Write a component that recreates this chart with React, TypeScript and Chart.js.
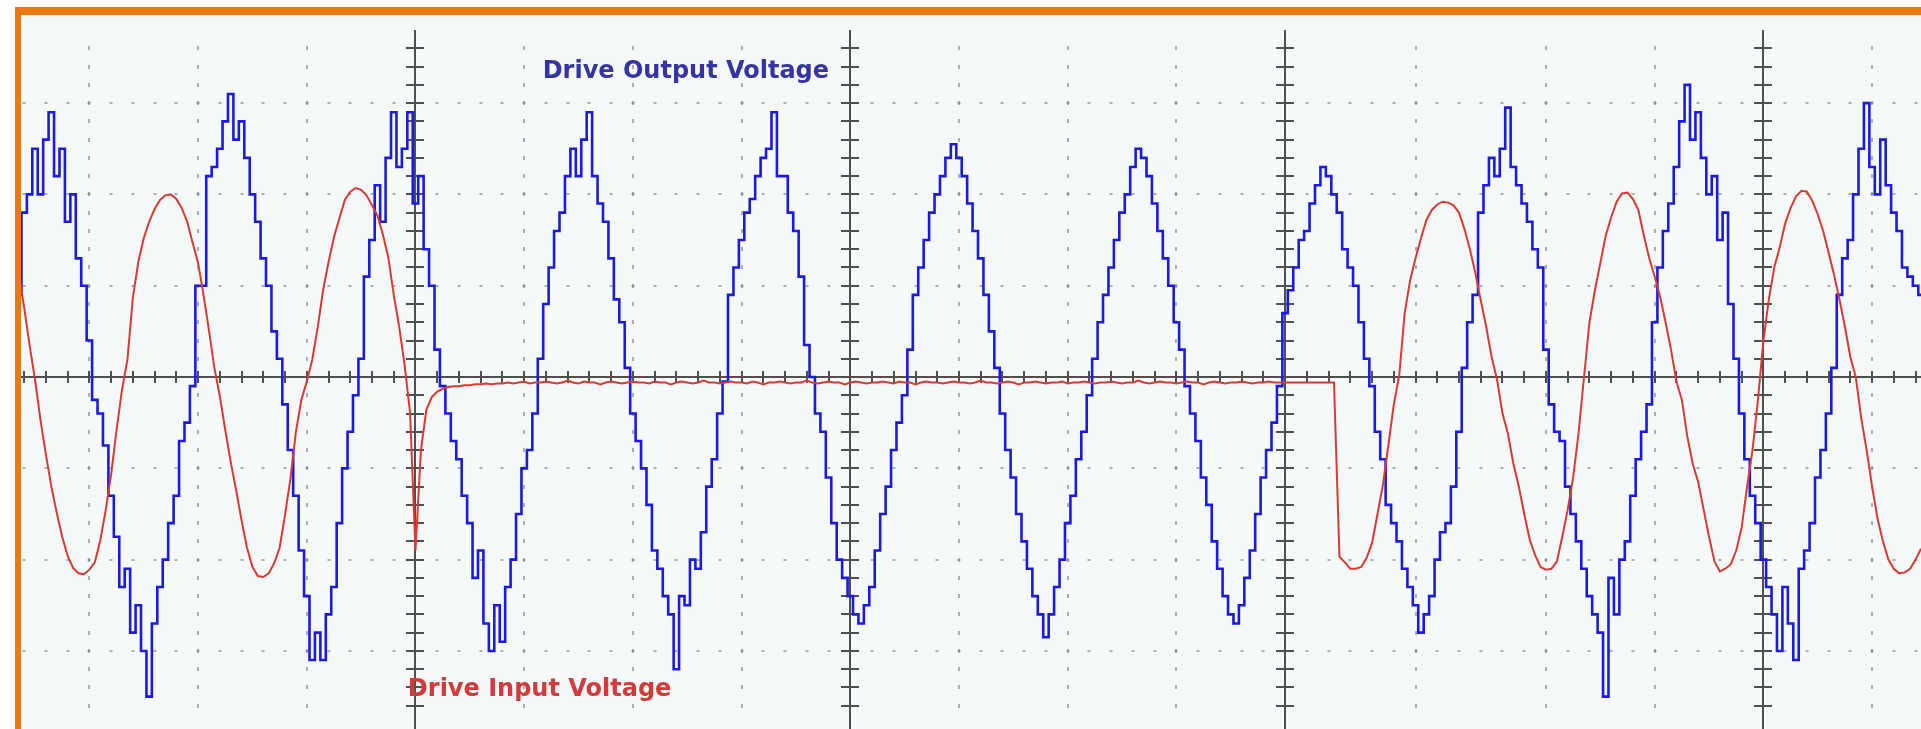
import { useEffect, useRef } from "react";
import { Chart, registerables } from "chart.js";

Chart.register(...registerables);

// Scope capture: both channels sampled every 0.5 ms, starting at -36.5 ms.
// Vertical values are in screen divisions (8 divisions full scale).
const sampleStartMs = -36.5;
const sampleStepMs = 0.5;

// Drive output voltage (blue channel), divisions
const driveOutput = [
  0.9, 1.8, 2.0, 2.5, 2.0, 2.6, 2.9, 2.2, 2.5, 1.7,
  2.0, 1.3, 1.0, 0.4, -0.25, -0.4, -0.75, -1.3, -1.75, -2.3,
  -2.1, -2.8, -2.5, -3.0, -3.5, -2.7, -2.3, -2.0, -1.6, -1.3,
  -0.7, -0.5, -0.1, 1.0, 1.0, 2.2, 2.3, 2.5, 2.8, 3.1,
  2.6, 2.8, 2.4, 2.0, 1.7, 1.3, 1.0, 0.5, 0.2, -0.3,
  -0.8, -1.3, -1.9, -2.4, -3.1, -2.8, -3.1, -2.6, -2.3, -1.6,
  -1.0, -0.6, -0.2, 0.2, 1.1, 1.5, 2.1, 1.7, 2.4, 2.9,
  2.3, 2.5, 2.9, 1.9, 2.2, 1.4, 1.0, 0.3, -0.1, -0.4,
  -0.7, -0.9, -1.3, -1.6, -2.2, -1.9, -2.7, -3.0, -2.5, -2.9,
  -2.3, -2.0, -1.5, -1.0, -0.8, -0.4, 0.2, 0.8, 1.2, 1.6,
  1.8, 2.2, 2.5, 2.2, 2.6, 2.9, 2.2, 1.9, 1.7, 1.3,
  0.85, 0.6, 0.1, -0.4, -0.7, -1.0, -1.4, -1.9, -2.1, -2.4,
  -2.6, -3.2, -2.4, -2.5, -2.0, -2.1, -1.7, -1.2, -0.9, -0.4,
  -0.05, 0.9, 1.2, 1.5, 1.8, 1.95, 2.2, 2.4, 2.5, 2.9,
  2.2, 2.2, 1.8, 1.6, 1.1, 0.35, 0.0, -0.4, -0.6, -1.1,
  -1.6, -2.0, -2.2, -2.4, -2.6, -2.7, -2.5, -2.3, -1.9, -1.5,
  -1.2, -0.8, -0.5, -0.2, 0.3, 0.9, 1.2, 1.5, 1.8, 2.0,
  2.2, 2.4, 2.55, 2.4, 2.2, 1.9, 1.6, 1.3, 0.9, 0.5,
  0.1, -0.4, -0.8, -1.1, -1.5, -1.8, -2.1, -2.4, -2.6, -2.85,
  -2.6, -2.3, -2.0, -1.6, -1.3, -0.9, -0.6, -0.2, 0.2, 0.6,
  0.9, 1.2, 1.5, 1.8, 2.0, 2.3, 2.5, 2.4, 2.2, 1.9,
  1.6, 1.3, 1.0, 0.6, 0.3, -0.1, -0.4, -0.7, -1.1, -1.4,
  -1.8, -2.1, -2.4, -2.6, -2.7, -2.5, -2.2, -1.9, -1.5, -1.1,
  -0.8, -0.5, -0.1, 0.7, 0.95, 1.2, 1.5, 1.6, 1.9, 2.1,
  2.3, 2.2, 2.0, 1.8, 1.4, 1.2, 1.0, 0.6, 0.2, -0.1,
  -0.6, -0.9, -1.4, -1.6, -1.8, -2.1, -2.3, -2.5, -2.8, -2.6,
  -2.4, -2.0, -1.7, -1.6, -1.2, -0.6, 0.1, 0.6, 0.9, 1.8,
  2.1, 2.4, 2.2, 2.5, 2.95, 2.3, 2.1, 1.9, 1.7, 1.4,
  1.2, 0.3, -0.3, -0.6, -0.7, -1.2, -1.5, -1.8, -2.1, -2.4,
  -2.6, -2.8, -3.5, -2.2, -2.6, -2.0, -1.8, -1.3, -0.9, -0.6,
  -0.3, 0.6, 1.2, 1.6, 1.9, 2.3, 2.8, 3.2, 2.6, 2.9,
  2.4, 2.0, 2.2, 1.5, 1.8, 0.8, 0.2, -0.4, -0.9, -1.3,
  -1.6, -2.0, -2.3, -2.6, -3.0, -2.3, -2.7, -3.1, -2.1, -1.9,
  -1.6, -1.1, -0.8, -0.4, 0.1, 0.9, 1.3, 1.5, 2.0, 2.5,
  3.0, 2.3, 2.0, 2.6, 2.1, 1.8, 1.6, 1.2, 1.1, 1.0, 0.9,
];

// Drive input voltage (red channel), divisions
const driveInput = [
  1.15, 0.76, 0.35, -0.03, -0.47, -0.85, -1.2, -1.49, -1.75, -1.96,
  -2.09, -2.15, -2.16, -2.11, -2.03, -1.79, -1.46, -1.07, -0.58, -0.14,
  0.19, 0.87, 1.26, 1.52, 1.7, 1.84, 1.94, 1.99, 2.0, 1.95,
  1.85, 1.7, 1.47, 1.25, 0.9, 0.51, 0.1, -0.21, -0.58, -0.93,
  -1.24, -1.57, -1.87, -2.08, -2.18, -2.19, -2.15, -2.04, -1.87, -1.51,
  -1.11, -0.6, -0.25, -0.05, 0.19, 0.54, 0.95, 1.26, 1.53, 1.74,
  1.94, 2.03, 2.07, 2.05, 1.99, 1.88, 1.77, 1.56, 1.31, 0.9,
  0.55, 0.13, -0.39, -1.9, -0.8, -0.36, -0.22, -0.16, -0.13, -0.11,
  -0.1, -0.1, -0.09, -0.09, -0.08, -0.08, -0.07, -0.08, -0.07, -0.07,
  -0.06, -0.07, -0.06, -0.05, -0.07, -0.06, -0.06, -0.05, -0.06, -0.07,
  -0.06, -0.04, -0.06, -0.07, -0.05, -0.06, -0.06, -0.08, -0.06, -0.05,
  -0.06, -0.07, -0.06, -0.05, -0.06, -0.06, -0.07, -0.05, -0.06, -0.06,
  -0.08, -0.06, -0.05, -0.06, -0.07, -0.06, -0.04, -0.06, -0.06, -0.07,
  -0.06, -0.05, -0.06, -0.06, -0.07, -0.05, -0.06, -0.08, -0.06, -0.06,
  -0.05, -0.06, -0.07, -0.06, -0.06, -0.04, -0.06, -0.07, -0.06, -0.05,
  -0.06, -0.06, -0.08, -0.06, -0.05, -0.06, -0.07, -0.06, -0.06, -0.05,
  -0.06, -0.07, -0.05, -0.06, -0.06, -0.08, -0.06, -0.05, -0.06, -0.06,
  -0.07, -0.06, -0.05, -0.06, -0.06, -0.07, -0.06, -0.04, -0.06, -0.06,
  -0.07, -0.06, -0.05, -0.06, -0.08, -0.06, -0.06, -0.05, -0.06, -0.07,
  -0.06, -0.06, -0.05, -0.07, -0.06, -0.06, -0.05, -0.06, -0.07, -0.06,
  -0.06, -0.05, -0.06, -0.07, -0.06, -0.06, -0.04, -0.06, -0.07, -0.06,
  -0.05, -0.06, -0.06, -0.07, -0.06, -0.05, -0.06, -0.06, -0.08, -0.06,
  -0.05, -0.06, -0.07, -0.06, -0.06, -0.05, -0.06, -0.07, -0.06, -0.06,
  -0.05, -0.06, -0.06, -0.06, -0.06, -0.06, -0.06, -0.06, -0.06, -0.06,
  -0.06, -0.06, -0.06, -1.97, -2.03, -2.1, -2.1, -2.08, -1.98, -1.82,
  -1.5, -1.18, -0.75, -0.3, 0.02, 0.7, 1.06, 1.3, 1.52, 1.72,
  1.83, 1.89, 1.92, 1.91, 1.88, 1.8, 1.62, 1.4, 1.14, 0.84,
  0.55, 0.22, -0.03, -0.4, -0.62, -0.95, -1.2, -1.5, -1.78, -1.95,
  -2.08, -2.11, -2.1, -2.02, -1.75, -1.45, -1.1, -0.61, 0.0, 0.6,
  0.95, 1.25, 1.55, 1.75, 1.92, 2.01, 2.02, 1.95, 1.83, 1.55,
  1.3, 1.1, 0.88, 0.6, 0.3, -0.05, -0.25, -0.65, -0.95, -1.15,
  -1.45, -1.75, -2.02, -2.13, -2.1, -2.05, -1.9, -1.65, -1.2, -0.8,
  -0.25, 0.4, 0.85, 1.2, 1.42, 1.68, 1.85, 1.98, 2.04, 2.03,
  1.93, 1.78, 1.6, 1.36, 1.12, 0.85, 0.55, 0.22, 0.0, -0.45,
  -0.8, -1.2, -1.55, -1.8, -2.0, -2.1, -2.15, -2.14, -2.1, -2.0,
  -1.88,
];

// Graticule: visible window, division lines (ms), axes with tick marks (ms)
const timeWindowMs = [-36.29, 138.5];
const levelWindowDiv = [-3.855, 3.965];
const dottedTimeLines = [-30, -20, -10, 10, 20, 30, 50, 60, 70, 92, 104, 114, 134];
const tickedTimeAxes = [0, 40, 80, 124];
const dottedLevelLines = [-3, -2, -1, 1, 2, 3];
const minorTimeStepMs = 2;
const minorLevelStepDiv = 0.2;
const topMinorLevelDiv = 3.8;

// Trace captions: text, time (ms), level (div)
const outputCaption = { text: "Drive Output Voltage", t: 11.7, v: 3.27 };
const inputCaption = { text: "Drive Input Voltage", t: -0.7, v: -3.49 };

const COLORS = {
  page: "#ffffff",
  screen: "#f6f9f9",
  frame: "#e8780f",
  dot: "rgba(125,125,125,0.6)",
  axis: "#4f4f4f",
  output: "#1a1ae2",
  input: "#dc3a30",
  outputText: "#3434a6",
  inputText: "#d43a3a",
};

const toPoints = (values: number[]) =>
  values.map((v, i) => ({ x: sampleStartMs + i * sampleStepMs, y: v }));

const minorSteps = (from: number, to: number, step: number) => {
  const out: number[] = [];
  const first = Math.ceil(from / step);
  const last = Math.floor(to / step);
  for (let k = first; k <= last; k++) out.push(+(k * step).toFixed(4));
  return out;
};

const scopePlugin = {
  id: "scopeScreen",
  beforeDraw(chart: any) {
    const { ctx, chartArea: a, width, height } = chart;
    ctx.save();
    ctx.fillStyle = COLORS.page;
    ctx.fillRect(0, 0, width, height);
    ctx.fillStyle = COLORS.screen;
    ctx.fillRect(a.left, a.top, a.right - a.left, a.bottom - a.top);
    ctx.restore();
  },
  beforeDatasetsDraw(chart: any) {
    const { ctx, chartArea: a } = chart;
    const x = chart.scales.x;
    const y = chart.scales.y;
    const minorTimes = minorSteps(x.min, x.max, minorTimeStepMs);
    const minorLevels = minorSteps(-topMinorLevelDiv, topMinorLevelDiv, minorLevelStepDiv);
    ctx.save();
    ctx.beginPath();
    ctx.rect(a.left, a.top, a.right - a.left, a.bottom - a.top);
    ctx.clip();

    // dotted division lines
    ctx.fillStyle = COLORS.dot;
    for (const t of dottedTimeLines) {
      const px = Math.round(x.getPixelForValue(t));
      for (const v of minorLevels) {
        const py = Math.round(y.getPixelForValue(v));
        ctx.fillRect(px - 1, py - 2, 2, 4);
      }
    }
    for (const v of dottedLevelLines) {
      const py = Math.round(y.getPixelForValue(v));
      for (const t of minorTimes) {
        const px = Math.round(x.getPixelForValue(t));
        ctx.fillRect(px - 1.5, py - 1, 3, 2);
      }
    }

    // centre time axis with ticks
    ctx.strokeStyle = COLORS.axis;
    ctx.lineWidth = 2;
    const y0 = Math.round(y.getPixelForValue(0));
    ctx.beginPath();
    ctx.moveTo(a.left, y0);
    ctx.lineTo(a.right, y0);
    ctx.stroke();
    ctx.beginPath();
    for (const t of minorTimes) {
      const px = Math.round(x.getPixelForValue(t));
      ctx.moveTo(px, y0 - 6);
      ctx.lineTo(px, y0 + 6);
    }
    ctx.stroke();

    // vertical axes with ticks
    const yTop = y.getPixelForValue(topMinorLevelDiv);
    for (const t of tickedTimeAxes) {
      const px = Math.round(x.getPixelForValue(t));
      ctx.beginPath();
      ctx.moveTo(px, yTop);
      ctx.lineTo(px, a.bottom);
      ctx.stroke();
      ctx.beginPath();
      for (const v of minorLevels) {
        const py = Math.round(y.getPixelForValue(v));
        ctx.moveTo(px - 9, py);
        ctx.lineTo(px + 9, py);
      }
      ctx.stroke();
    }
    ctx.restore();
  },
  afterDatasetsDraw(chart: any) {
    const { ctx } = chart;
    const x = chart.scales.x;
    const y = chart.scales.y;
    ctx.save();
    ctx.textBaseline = "alphabetic";
    ctx.textAlign = "left";
    ctx.font = "bold 24px 'DejaVu Sans'";
    ctx.fillStyle = COLORS.outputText;
    ctx.fillText(outputCaption.text, x.getPixelForValue(outputCaption.t), y.getPixelForValue(outputCaption.v));
    ctx.fillStyle = COLORS.inputText;
    ctx.fillText(inputCaption.text, x.getPixelForValue(inputCaption.t), y.getPixelForValue(inputCaption.v));
    ctx.restore();
  },
  afterDraw(chart: any) {
    const { ctx, chartArea: a, width } = chart;
    ctx.save();
    ctx.fillStyle = COLORS.frame;
    ctx.fillRect(a.left - 6, a.top - 8, width - (a.left - 6), 8);
    ctx.fillRect(a.left - 6, a.top - 8, 6, chart.height - (a.top - 8));
    ctx.restore();
  },
};

export default function App() {
  const canvasRef = useRef<HTMLCanvasElement | null>(null);

  useEffect(() => {
    const canvas = canvasRef.current;
    if (!canvas) return;
    const chart = new Chart(canvas, {
      type: "line",
      data: {
        datasets: [
          {
            label: "Drive Input Voltage",
            data: toPoints(driveInput),
            borderColor: COLORS.input,
            borderWidth: 2,
            pointRadius: 0,
            tension: 0,
          },
          {
            label: "Drive Output Voltage",
            data: toPoints(driveOutput),
            borderColor: COLORS.output,
            borderWidth: 2.6,
            pointRadius: 0,
            stepped: "middle",
          },
        ],
      },
      options: {
        animation: false,
        responsive: false,
        devicePixelRatio: 1,
        parsing: false,
        layout: { padding: { left: 21, top: 15, right: 0, bottom: 0 } },
        plugins: { legend: { display: false }, tooltip: { enabled: false } },
        events: [],
        scales: {
          x: { type: "linear", display: false, min: timeWindowMs[0], max: timeWindowMs[1] },
          y: { type: "linear", display: false, min: levelWindowDiv[0], max: levelWindowDiv[1] },
        },
      },
      plugins: [scopePlugin],
    });
    return () => chart.destroy();
  }, []);

  return (
    <div style={{ position: "fixed", left: 0, top: 0, width: 1921, height: 729, background: "#fff" }}>
      <canvas ref={canvasRef} width={1921} height={729} style={{ display: "block" }} />
    </div>
  );
}
